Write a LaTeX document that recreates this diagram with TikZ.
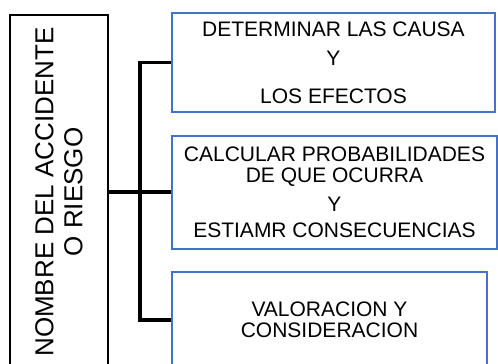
\documentclass[tikz,border=0pt]{standalone}
\usepackage{fontspec}
\setmainfont{Liberation Sans}
\definecolor{boxblue}{HTML}{4472C4}
\tikzset{
  titlebox/.style={draw=black,line width=2pt,rotate=90,minimum width=354pt,minimum height=98pt,inner sep=0pt,align=center,font=\fontsize{26}{29}\selectfont},
  stepbox/.style={draw=boxblue,line width=2pt,inner sep=0pt,align=center,font=\fontsize{21}{21}\selectfont},
  conn/.style={line width=3.6pt,black}
}
\begin{document}
\begin{tikzpicture}[x=1pt,y=-1pt]
    \useasboundingbox (0,0) rectangle (498,364);
    \clip (0,0) rectangle (498,364);
    \node[titlebox] (nombre) at (59,192) {NOMBRE DEL ACCIDENTE\\O RIESGO};
    \node[stepbox,minimum width=323pt,minimum height=99pt] (causa) at (333.5,62.5)
        {DETERMINAR LAS CAUSA\\[8pt]Y\\[17pt]LOS EFECTOS};
    \node[stepbox,minimum width=325pt,minimum height=113pt] (prob) at (334.5,192)
        {CALCULAR PROBABILIDADES\\DE QUE OCURRA\\[8pt]Y\\[5pt]ESTIAMR CONSECUENCIAS};
    \node[stepbox,minimum width=315pt,minimum height=96pt] (valor) at (329.5,320)
        {VALORACION Y\\CONSIDERACION};
    \coordinate (junta) at (140,192);
    \draw[conn] (nombre.south) -- (junta) -- (prob.west);
    \draw[conn] (causa.west) -| (junta) |- (valor.west);
\end{tikzpicture}
\end{document}
